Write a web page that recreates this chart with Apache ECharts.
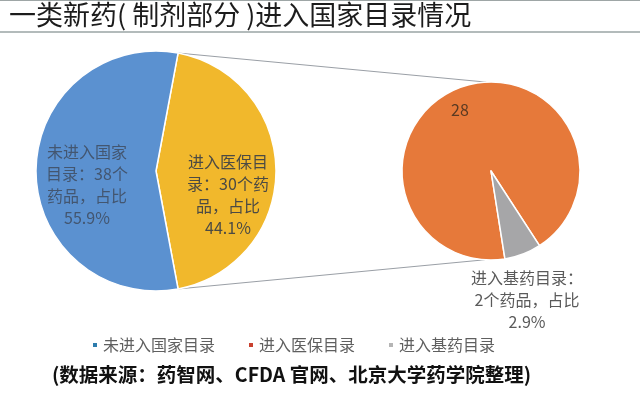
<!DOCTYPE html>
<html>
<head>
<meta charset="utf-8">
<script src="https://cdn.jsdelivr.net/npm/echarts@6/dist/echarts.min.js"></script>
<style>
html,body{margin:0;padding:0;background:#ffffff;}
#c{width:640px;height:396px;}
</style>
</head>
<body>
<div id="c"></div>
<script>
// ---- data ----
const legendNames = ['未进入国家目录', '进入医保目录', '进入基药目录'];
const mainNames = ['进入国家目录', '未进入国家目录'];
const mainValues = [30, 38];
const subNames = ['进入医保目录', '进入基药目录'];
const subValues = [28, 2];

// ---- layout / style ----
const FONT = 'Noto Sans CJK SC';
const C1 = [156, 171], R1 = 120;
const C2 = [491, 171], R2 = 89;
const colors = { blue: '#5b91d0', yellow: '#f1b82c', orange: '#e6793a', gray: '#a6a6a8' };

const total = mainValues[0] + mainValues[1];
const pct = v => (v / total * 100).toFixed(1) + '%';
const splitDeg = 180 * mainValues[0] / total; // ECharts startAngle so the aggregate slice is centred at 3 o'clock

const mainLabels = [
  '进入医保目\n录：' + mainValues[0] + '个药\n品，占比\n' + pct(mainValues[0]),
  '未进入国家\n目录：' + mainValues[1] + '个\n药品，占比\n' + pct(mainValues[1])
];
const subLabels = [
  String(subValues[0]),
  '进入基药目录：\n' + subValues[1] + '个药品，占比\n' + pct(subValues[1])
];

// connector endpoints derived from pie geometry
function pt(c, r, degCW) {
  const a = degCW * Math.PI / 180;
  return [c[0] + r * Math.sin(a), c[1] - r * Math.cos(a)];
}
const aTop = 90 - splitDeg, aBot = 90 + splitDeg;
const p1 = pt(C1, R1, aTop), p2 = pt(C1, R1, aBot);
const q1 = pt(C2, R2, -3), q2 = pt(C2, R2, 184);

const chart = echarts.init(document.getElementById('c'), null, { renderer: 'canvas' });
chart.setOption({
  animation: false,
  backgroundColor: '#ffffff',
  textStyle: { fontFamily: FONT },
  graphic: [
    { type: 'rect', shape: { x: 0, y: 0, width: 640, height: 1 }, style: { fill: '#9ea6a6' } },
    { type: 'rect', shape: { x: 0, y: 31, width: 640, height: 2 }, style: { fill: '#b3bbbb' } },
    { type: 'text', left: 9, top: 1, style: { text: '一类新药( 制剂部分 )进入国家目录情况', fontFamily: FONT, fontSize: 27, fill: '#1c1c1c' } },
    { type: 'line', shape: { x1: p1[0], y1: p1[1], x2: q1[0], y2: q1[1] }, style: { stroke: '#9a9fa6', lineWidth: 1 } },
    { type: 'line', shape: { x1: p2[0], y1: p2[1], x2: q2[0], y2: q2[1] }, style: { stroke: '#9a9fa6', lineWidth: 1 } },
    { type: 'text', left: 52, top: 365, style: { text: '(数据来源：药智网、CFDA 官网、北京大学药学院整理)', fontFamily: FONT, fontSize: 19.5, fontWeight: 'bold', fill: '#111111' } }
  ],
  legend: {
    left: 86, top: 332,
    icon: 'rect', itemWidth: 6, itemHeight: 6, itemGap: 32,
    selectedMode: false,
    textStyle: { fontFamily: FONT, fontSize: 16, color: '#5f5f5f' },
    data: [
      { name: legendNames[0], itemStyle: { color: '#2c7cad' } },
      { name: legendNames[1], itemStyle: { color: '#c9412f' } },
      { name: legendNames[2], itemStyle: { color: '#b5b5b5' } }
    ]
  },
  series: [
    {
      type: 'pie', center: C1, radius: [0, R1], startAngle: splitDeg, clockwise: true,
      silent: true, emphasis: { disabled: true },
      itemStyle: { borderColor: '#ffffff', borderWidth: 1.5 },
      label: { position: 'inside', fontFamily: FONT, fontSize: 16, lineHeight: 22, align: 'center' },
      labelLine: { show: false },
      labelLayout: function (p) {
        return p.dataIndex === 0 ? { dx: 9, dy: 24 } : { dx: -6, dy: 14 };
      },
      data: mainValues.map((v, i) => ({
        name: mainNames[i], value: v,
        itemStyle: { color: i === 0 ? colors.yellow : colors.blue },
        label: { formatter: mainLabels[i], color: i === 0 ? '#4b4a44' : '#435670' }
      }))
    },
    {
      type: 'pie', center: C2, radius: [0, R2], startAngle: -81, clockwise: true,
      silent: true, emphasis: { disabled: true },
      itemStyle: { borderColor: '#ffffff', borderWidth: 1.5 },
      label: { position: 'inside', fontFamily: FONT, fontSize: 16, lineHeight: 22, align: 'center' },
      labelLine: { show: false },
      labelLayout: function (p) {
        return p.dataIndex === 0 ? { dx: -14, dy: -17 } : { dx: 19, dy: 85 };
      },
      data: subValues.map((v, i) => ({
        name: subNames[i], value: v,
        itemStyle: { color: i === 0 ? colors.orange : colors.gray },
        label: { formatter: subLabels[i], color: i === 0 ? '#5a3a22' : '#5a5a5a' }
      }))
    }
  ]
});
</script>
</body>
</html>
